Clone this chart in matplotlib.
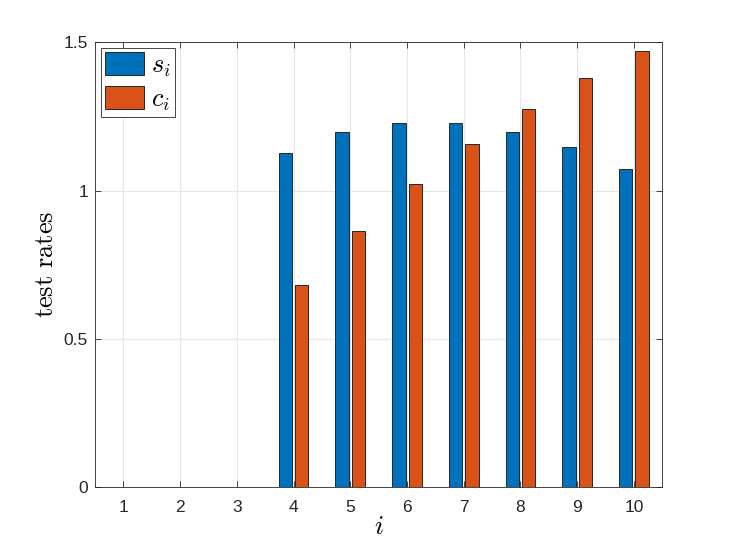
import numpy as np
import matplotlib
matplotlib.use('Agg')
import matplotlib.pyplot as plt

# values
idx = [1, 2, 3, 4, 5, 6, 7, 8, 9, 10]
s_vals = [0, 0, 0, 1.125, 1.197, 1.227, 1.227, 1.197, 1.146, 1.072]
c_vals = [0, 0, 0, 0.681, 0.863, 1.021, 1.156, 1.275, 1.380, 1.472]
y_ticks = [0, 0.5, 1, 1.5]
y_tick_labels = ['0', '0.5', '1', '1.5']

plt.rcParams['mathtext.fontset'] = 'cm'
plt.rcParams['font.family'] = ['Liberation Sans', 'DejaVu Sans']

fig = plt.figure(figsize=(7.31, 5.48), dpi=100)
ax = fig.add_axes([0.130, 0.111, 0.776, 0.812])

x = np.array(idx)
off = 0.144
w = 0.235
ax.bar(x - off, s_vals, width=w, color='#0072BD', edgecolor='#262626', linewidth=0.7, label=r'$s_i$', zorder=3)
ax.bar(x + off, c_vals, width=w, color='#D95319', edgecolor='#262626', linewidth=0.7, label=r'$c_i$', zorder=3)

ax.set_xlim(0.5, 10.5)
ax.set_ylim(0, 1.5)
ax.set_xticks(idx)
ax.set_yticks(y_ticks)
ax.set_yticklabels(y_tick_labels)

ax.grid(True, color='#e6e6e6', linewidth=0.8, zorder=0)
ax.set_axisbelow(True)
ax.tick_params(direction='in', top=True, right=True, length=4, width=0.6,
               colors='#262626', labelsize=12.5)
ax.tick_params(axis='x', pad=9)
ax.tick_params(axis='y', pad=5)
for sp in ax.spines.values():
    sp.set_color('#262626')
    sp.set_linewidth(0.6)

ax.set_xlabel(r'$i$', fontsize=19, labelpad=0)
ax.set_ylabel(r'$\mathrm{test\ rates}$', fontsize=19, labelpad=4)

leg = ax.legend(loc='upper left', fontsize=19, handlelength=1.5, handleheight=0.95,
                fancybox=False, framealpha=1, edgecolor='#262626',
                borderaxespad=0.22, borderpad=0.15, labelspacing=0.27, handletextpad=0.25)
leg.get_frame().set_linewidth(0.6)

fig.savefig('out.png', dpi=100)
